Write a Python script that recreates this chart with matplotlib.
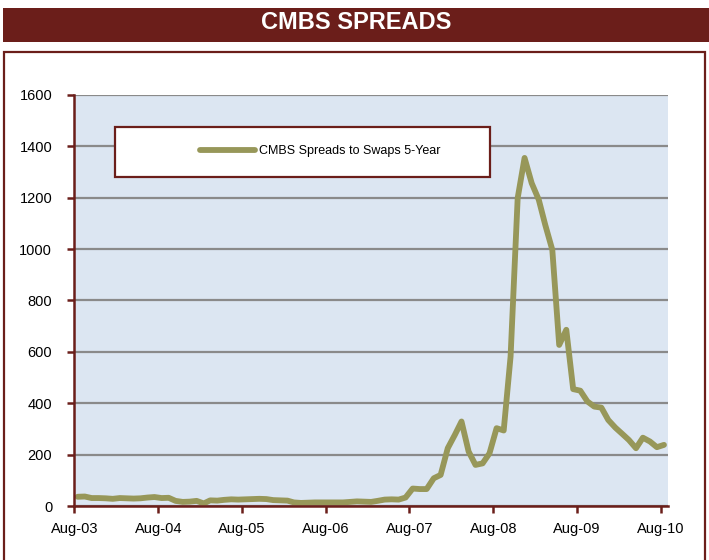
import datetime
import numpy as np
import matplotlib
matplotlib.use('Agg')
import matplotlib.pyplot as plt
import matplotlib.dates as mdates
from matplotlib.patches import Rectangle

# monthly CMBS spreads to swaps (bp), Aug-03 .. Aug-10
spreads = [36, 37, 31, 31, 30, 28, 31, 30, 29, 30, 33, 35,
           31, 32, 20, 16, 17, 20, 10, 22, 21, 24, 26, 25,
           26, 27, 28, 27, 23, 22, 21, 14, 12, 13, 14, 14,
           14, 14, 14, 16, 18, 17, 16, 20, 25, 26, 25, 33,
           68, 66, 66, 108, 121, 225, 277, 329, 212, 160, 166, 205,
           303, 294, 582, 1199, 1355, 1257, 1192, 1095, 997, 627, 686, 455,
           449, 407, 387, 383, 335, 305, 280, 257, 225, 266, 251, 229,
           238]
series_label = 'CMBS Spreads to Swaps 5-Year'
title = 'CMBS SPREADS'
y_ticks = [0, 200, 400, 600, 800, 1000, 1200, 1400, 1600]
x_tick_years = [2003, 2004, 2005, 2006, 2007, 2008, 2009, 2010]

dates = [datetime.date(2003 + (7 + i) // 12, (7 + i) % 12 + 1, 15) for i in range(len(spreads))]

plt.rcParams['font.family'] = ['Liberation Sans', 'DejaVu Sans']

RED = '#6b1e1a'
OLIVE = '#979759'

fig = plt.figure(figsize=(7.09, 5.6), dpi=100)

#title bar
fig.patches.append(Rectangle((0.004, 0.925), 0.996, 0.061, transform=fig.transFigure,
                             facecolor=RED, edgecolor='none'))
fig.text(0.502, 0.959, title, color='white', fontsize=17, fontweight='bold',
         ha='center', va='center')
#outer frame
fig.patches.append(Rectangle((0.006, -0.05), 0.988, 0.957, transform=fig.transFigure,
                             facecolor='none', edgecolor=RED, linewidth=1.6))

ax = fig.add_axes([0.105, 0.0964, 0.837, 0.734])
ax.set_facecolor('#dce6f2')
ax.plot(dates, spreads, color=OLIVE, linewidth=4.2, solid_joinstyle='round',
        solid_capstyle='round', label=series_label)

ax.set_ylim(0, 1600)
ax.set_yticks(y_ticks)
ax.set_xlim(datetime.date(2003, 8, 1), datetime.date(2010, 9, 1))
ax.set_xticks([datetime.date(y, 8, 1) for y in x_tick_years])
ax.xaxis.set_major_formatter(mdates.DateFormatter('%b-%y'))
ax.yaxis.grid(True, color='#8a8a8a', linewidth=1.6)
ax.set_axisbelow(True)

for s in ['top', 'right']:
    ax.spines[s].set_visible(False)
for s in ['left', 'bottom']:
    ax.spines[s].set_color(RED)
    ax.spines[s].set_linewidth(1.8)
ax.tick_params(axis='both', colors=RED, length=5, width=1.8, labelcolor='black',
               labelsize=10.5, direction='out')
ax.tick_params(axis='y', pad=11)
ax.tick_params(axis='x', pad=6.5)

#legend box
ax.add_patch(Rectangle((0.068, 0.800), 0.632, 0.122, transform=ax.transAxes,
                       facecolor='white', edgecolor=RED, linewidth=1.6, zorder=5))
leg = ax.legend(loc='center', bbox_to_anchor=(0.414, 0.864), frameon=False,
                handlelength=4.4, handletextpad=0.3, fontsize=9)
leg.set_zorder(6)

plt.savefig('out.png', dpi=100)
